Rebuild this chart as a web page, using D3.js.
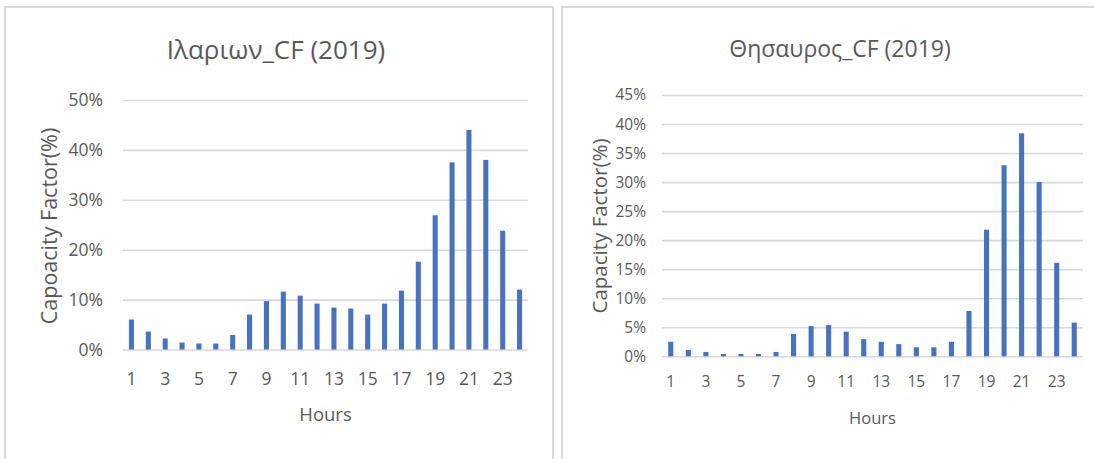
<!DOCTYPE html>
<html>
<head>
<meta charset="utf-8">
<script src="https://cdn.jsdelivr.net/npm/d3@7"></script>
<style>
  html, body { margin: 0; padding: 0; background: #fff; }
  svg { display: block; }
  text { font-family: "Open Sans", "Noto Sans", sans-serif; fill: #595959; }
</style>
</head>
<body>
<svg id="chart" width="1094" height="459"></svg>
<script>
// Hourly capacity factor, 2019 (fraction of rated capacity)
const hours = d3.range(1, 25);
const hourTicks = [1, 3, 5, 7, 9, 11, 13, 15, 17, 19, 21, 23];

const ilarionCF = [0.060, 0.036, 0.022, 0.014, 0.012, 0.012, 0.029, 0.070,
                   0.097, 0.116, 0.108, 0.092, 0.084, 0.082, 0.070, 0.092,
                   0.118, 0.176, 0.269, 0.375, 0.440, 0.380, 0.238, 0.120];
const ilarionTicks = [0, 0.1, 0.2, 0.3, 0.4, 0.5];

const thisavrosCF = [0.025, 0.011, 0.0075, 0.004, 0.004, 0.004, 0.0075, 0.0385,
                     0.052, 0.054, 0.0425, 0.0295, 0.025, 0.021, 0.0155, 0.0155,
                     0.025, 0.078, 0.218, 0.329, 0.384, 0.300, 0.161, 0.058];
const thisavrosTicks = [0, 0.05, 0.10, 0.15, 0.20, 0.25, 0.30, 0.35, 0.40, 0.45];

const svg = d3.select("#chart");
const pct = d3.format(".0%");

function panel(cfg) {
  const g = svg.append("g");

  // chart frame
  g.append("rect")
    .attr("x", cfg.frame[0]).attr("y", cfg.frame[1])
    .attr("width", cfg.frame[2]).attr("height", cfg.frame[3])
    .attr("fill", "#fff").attr("stroke", "#d9d9d9").attr("stroke-width", 2);

  const x = d3.scaleBand()
    .domain(hours)
    .range([cfg.x0, cfg.x1])
    .paddingInner(cfg.pad)
    .paddingOuter(cfg.pad / 2);

  const y = d3.scaleLinear()
    .domain([0, cfg.ticks[cfg.ticks.length - 1]])
    .range([cfg.yBottom, cfg.yTop]);

  // gridlines + tick labels
  const yAxis = g.append("g")
    .attr("transform", `translate(${cfg.x0},0)`)
    .call(d3.axisLeft(y).tickValues(cfg.ticks).tickFormat(pct)
      .tickSize(-(cfg.x1 - cfg.x0)).tickPadding(cfg.yPad));
  yAxis.select(".domain").remove();
  yAxis.selectAll(".tick line").attr("stroke", "#d9d9d9").attr("stroke-width", 1.6);
  yAxis.selectAll(".tick text")
    .style("font-size", cfg.tickFont + "px").attr("fill", "#595959");

  // bars
  g.append("g").selectAll("rect")
    .data(cfg.values)
    .join("rect")
    .attr("x", (d, i) => x(hours[i]))
    .attr("width", x.bandwidth())
    .attr("y", d => y(d))
    .attr("height", d => y(0) - y(d))
    .attr("fill", "#4472c4");

  // hour labels
  const xAxis = g.append("g")
    .attr("transform", `translate(0,${cfg.yBottom})`)
    .call(d3.axisBottom(x).tickValues(hourTicks).tickSize(0).tickPadding(cfg.xPad));
  xAxis.select(".domain").remove();
  xAxis.selectAll(".tick text")
    .style("font-size", cfg.tickFont + "px").attr("fill", "#595959");

  // titles
  g.append("text")
    .attr("x", cfg.titleX).attr("y", cfg.titleY)
    .attr("text-anchor", "middle")
    .style("font-size", cfg.titleFont + "px")
    .text(cfg.title);

  g.append("text")
    .attr("x", (cfg.x0 + cfg.x1) / 2).attr("y", cfg.xTitleY)
    .attr("text-anchor", "middle")
    .style("font-size", cfg.axisFont + "px")
    .text("Hours");

  g.append("text")
    .attr("transform", `translate(${cfg.yTitleX},${cfg.yTitleY}) rotate(-90)`)
    .attr("text-anchor", "middle")
    .style("font-size", cfg.yTitleFont + "px")
    .text(cfg.yTitle);
}

panel({
  frame: [5, 7, 548, 470],
  x0: 123, x1: 528, yTop: 100, yBottom: 349.5, pad: 0.7,
  values: ilarionCF, ticks: ilarionTicks,
  title: "Ιλαριων_CF (2019)", titleX: 276, titleY: 59, titleFont: 26,
  yTitle: "Capoacity Factor(%)", yTitleX: 57, yTitleY: 226, yTitleFont: 21.5,
  xTitleY: 421, axisFont: 18.5, tickFont: 17.5, yPad: 20, xPad: 23
});

panel({
  frame: [562, 7, 560, 470],
  x0: 662, x1: 1083, yTop: 95, yBottom: 356.3, pad: 0.71,
  values: thisavrosCF, ticks: thisavrosTicks,
  title: "Θησαυρος_CF (2019)", titleX: 840, titleY: 57, titleFont: 23,
  yTitle: "Capacity Factor(%)", yTitleX: 607, yTitleY: 226, yTitleFont: 20.5,
  xTitleY: 424, axisFont: 16.5, tickFont: 15.5, yPad: 16, xPad: 20
});
</script>
</body>
</html>
